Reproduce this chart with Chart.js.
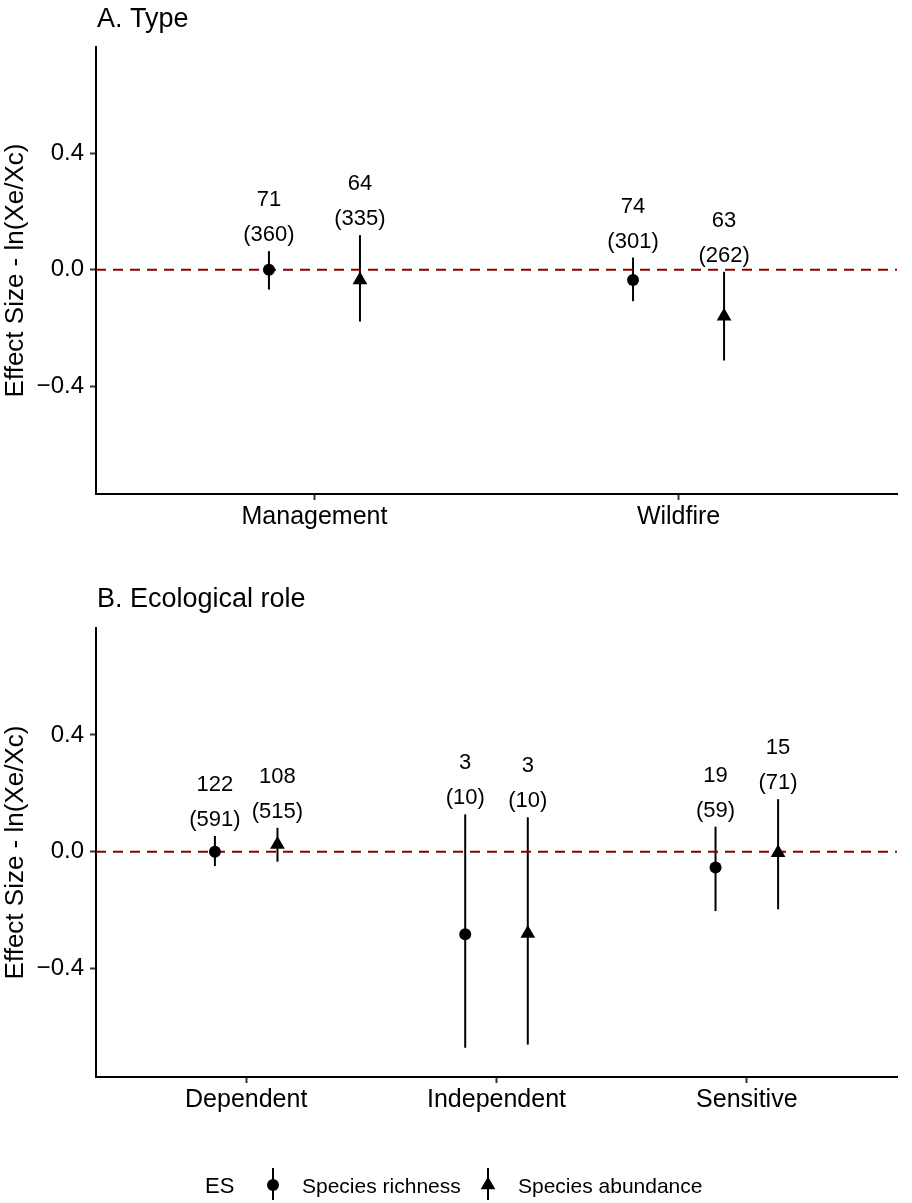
<!DOCTYPE html>
<html>
<head>
<meta charset="utf-8">
<script src="https://cdn.jsdelivr.net/npm/chart.js@4"></script>
<style>
  html, body { margin: 0; padding: 0; background: #fff; }
  #wrap { position: relative; width: 912px; height: 1203px; }
  canvas { position: absolute; left: 0; }
</style>
</head>
<body>
<div id="wrap">
  <canvas id="panelA" width="912" height="560" style="top:0"></canvas>
  <canvas id="panelB" width="912" height="643" style="top:560px"></canvas>
</div>
<script>
// A. Type
const typeCats = ["Management", "Wildfire"];
const typeRichMean = [0.0, -0.035];
const typeRichLo = [-0.068, -0.108];
const typeRichHi = [0.064, 0.042];
const typeRichK = [71, 74];
const typeRichN = [360, 301];
const typeAbunMean = [-0.035, -0.16];
const typeAbunLo = [-0.178, -0.312];
const typeAbunHi = [0.119, -0.007];
const typeAbunK = [64, 63];
const typeAbunN = [335, 262];

// B. Ecological role
const roleCats = ["Dependent", "Independent", "Sensitive"];
const roleRichMean = [0.0, -0.282, -0.054];
const roleRichLo = [-0.049, -0.671, -0.203];
const roleRichHi = [0.054, 0.128, 0.086];
const roleRichK = [122, 3, 19];
const roleRichN = [591, 10, 59];
const roleAbunMean = [0.025, -0.28, -0.003];
const roleAbunLo = [-0.034, -0.66, -0.197];
const roleAbunHi = [0.082, 0.118, 0.18];
const roleAbunK = [108, 3, 15];
const roleAbunN = [515, 10, 71];

const yTicks = [-0.4, 0, 0.4];
const yTitle = "Effect Size - ln(Xe/Xc)";
const seriesNames = ["Species richness", "Species abundance"];

const FONT = "'Liberation Sans', Arial, Helvetica, sans-serif";
Chart.defaults.font.family = FONT;
Chart.defaults.color = "#000";

const DODGE = 0.125;

// error bars + n labels, panel title, legend
const extras = {
  id: "extras",
  beforeDatasetsDraw(chart) {
    const { ctx } = chart;
    const ys = chart.scales.y;
    ctx.save();
    ctx.strokeStyle = "#000";
    ctx.lineWidth = 2;
    chart.data.datasets.forEach((ds, di) => {
      if (!ds.hi) return;
      chart.getDatasetMeta(di).data.forEach((pt, i) => {
        ctx.beginPath();
        ctx.moveTo(pt.x, ys.getPixelForValue(ds.lo[i]));
        ctx.lineTo(pt.x, ys.getPixelForValue(ds.hi[i]));
        ctx.stroke();
      });
    });
    ctx.restore();
  },
  afterDatasetsDraw(chart) {
    const { ctx } = chart;
    const ys = chart.scales.y;
    ctx.save();
    ctx.font = "22px " + FONT;
    ctx.fillStyle = "#000";
    ctx.textAlign = "center";
    ctx.textBaseline = "middle";
    chart.data.datasets.forEach((ds, di) => {
      if (!ds.hi) return;
      chart.getDatasetMeta(di).data.forEach((pt, i) => {
        const top = ys.getPixelForValue(ds.hi[i]);
        ctx.fillText(String(ds.k[i]), pt.x, top - 51);
        ctx.fillText("(" + ds.n[i] + ")", pt.x, top - 16);
      });
    });
    ctx.restore();
  },
  afterDraw(chart) {
    const { ctx } = chart;
    const o = chart.options.plugins.extras;
    ctx.save();
    ctx.fillStyle = "#000";
    ctx.textAlign = "left";
    ctx.textBaseline = "alphabetic";
    ctx.font = "27px " + FONT;
    ctx.fillText(o.title, chart.chartArea.left + 1, o.titleY);

    if (o.legendY) {
      const y = o.legendY;
      ctx.font = "22px " + FONT;
      ctx.fillText("ES", 205, y + 8);
      ctx.font = "21px " + FONT;
      ctx.fillText(seriesNames[0], 302, y + 8);
      ctx.fillText(seriesNames[1], 518, y + 8);
      ctx.strokeStyle = "#000";
      ctx.lineWidth = 2;
      [[273, "circle", 6], [488, "triangle", 8.5]].forEach(([x, style, r]) => {
        ctx.beginPath();
        ctx.moveTo(x, y - 17);
        ctx.lineTo(x, y + 15);
        ctx.stroke();
        Chart.helpers.drawPoint(ctx, { pointStyle: style, radius: r, borderWidth: 0, rotation: 0 }, x, y);
      });
    }
    ctx.restore();
  }
};

function fmtTick(v) {
  return v.toFixed(1).replace("-", "\u2212");
}

function makePanel(id, opts) {
  const cats = opts.cats;
  return new Chart(document.getElementById(id), {
    data: {
      datasets: [
        {
          type: "line",
          data: [{ x: -0.6, y: 0 }, { x: cats.length - 0.4, y: 0 }],
          borderColor: "#8b0000",
          borderWidth: 2,
          borderDash: [10, 7],
          pointRadius: 0,
          order: 2
        },
        {
          type: "scatter",
          label: seriesNames[0],
          data: cats.map((c, i) => ({ x: i - DODGE, y: opts.rich.mean[i] })),
          lo: opts.rich.lo, hi: opts.rich.hi, k: opts.rich.k, n: opts.rich.n,
          pointStyle: "circle",
          pointRadius: 6,
          pointBorderWidth: 0,
          backgroundColor: "#000",
          order: 1
        },
        {
          type: "scatter",
          label: seriesNames[1],
          data: cats.map((c, i) => ({ x: i + DODGE, y: opts.abun.mean[i] })),
          lo: opts.abun.lo, hi: opts.abun.hi, k: opts.abun.k, n: opts.abun.n,
          pointStyle: "triangle",
          pointRadius: 8.5,
          pointBorderWidth: 0,
          backgroundColor: "#000",
          order: 0
        }
      ]
    },
    options: {
      responsive: false,
      animation: false,
      devicePixelRatio: 1,
      layout: { padding: { top: opts.padTop, right: 15, bottom: opts.padBottom, left: 0 } },
      plugins: {
        legend: { display: false },
        tooltip: { enabled: false },
        extras: { title: opts.title, titleY: opts.titleY, legendY: opts.legendY }
      },
      scales: {
        x: {
          type: "linear",
          min: -0.6,
          max: cats.length - 0.4,
          afterBuildTicks: s => { s.ticks = cats.map((c, i) => ({ value: i })); },
          afterFit: s => { s.height = 66; },
          ticks: {
            callback: v => cats[v],
            font: { size: 25 },
            color: "#000",
            padding: 2,
            autoSkip: false,
            maxRotation: 0
          },
          grid: { drawOnChartArea: false, tickLength: 6, tickWidth: 2, tickColor: "#333" },
          border: { display: true, color: "#000", width: 2 }
        },
        y: {
          type: "linear",
          min: -0.771,
          max: 0.766,
          afterBuildTicks: s => { s.ticks = yTicks.map(v => ({ value: v })); },
          afterFit: s => { s.width = 96; },
          ticks: {
            callback: v => fmtTick(v),
            font: { size: 24 },
            color: "#000",
            padding: 6
          },
          grid: { drawOnChartArea: false, tickLength: 6, tickWidth: 2, tickColor: "#333" },
          border: { display: true, color: "#000", width: 2 },
          title: {
            display: true,
            text: yTitle,
            font: { size: 26 },
            color: "#000",
            padding: { top: 0, bottom: 0 }
          }
        }
      }
    },
    plugins: [extras]
  });
}

makePanel("panelA", {
  cats: typeCats,
  title: "A. Type",
  titleY: 27,
  padTop: 47,
  padBottom: 0,
  rich: { mean: typeRichMean, lo: typeRichLo, hi: typeRichHi, k: typeRichK, n: typeRichN },
  abun: { mean: typeAbunMean, lo: typeAbunLo, hi: typeAbunHi, k: typeAbunK, n: typeAbunN }
});

makePanel("panelB", {
  cats: roleCats,
  title: "B. Ecological role",
  titleY: 47,
  padTop: 68,
  padBottom: 60,
  legendY: 625,
  rich: { mean: roleRichMean, lo: roleRichLo, hi: roleRichHi, k: roleRichK, n: roleRichN },
  abun: { mean: roleAbunMean, lo: roleAbunLo, hi: roleAbunHi, k: roleAbunK, n: roleAbunN }
});
</script>
</body>
</html>
